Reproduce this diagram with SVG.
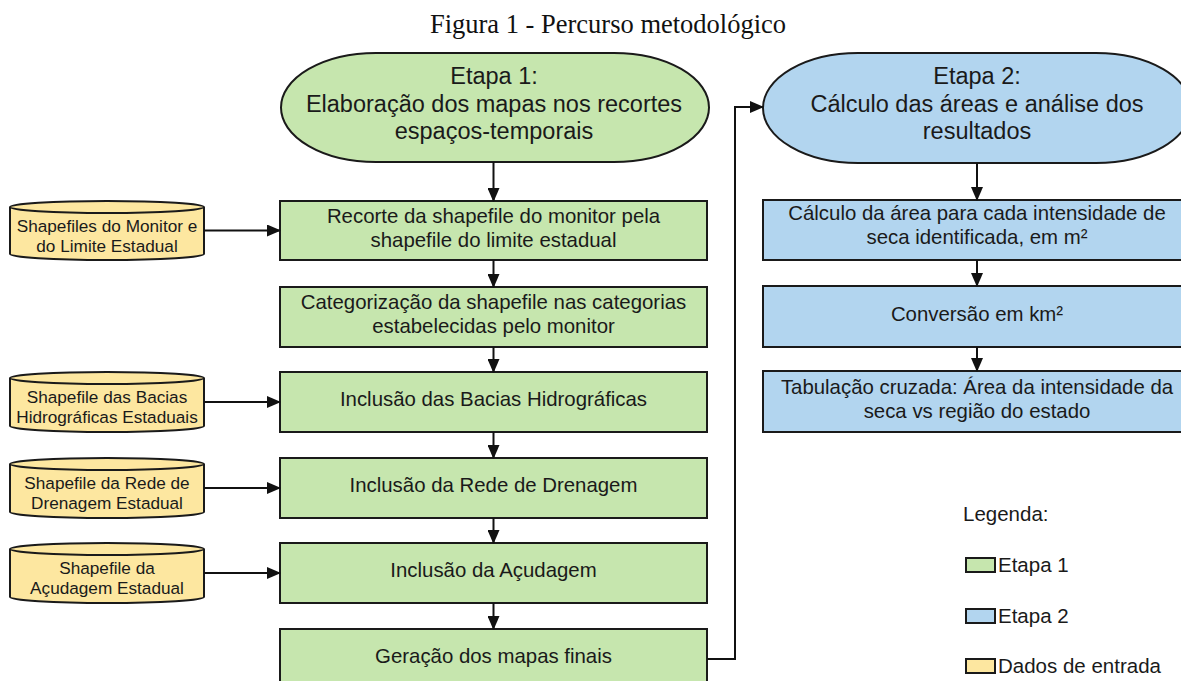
<svg xmlns="http://www.w3.org/2000/svg" width="1181" height="681" viewBox="0 0 1181 681">
<defs>
<marker id="ah" viewBox="0 0 14 12" refX="13" refY="6" markerWidth="14" markerHeight="12" markerUnits="userSpaceOnUse" orient="auto">
<path d="M0,0 L14,6 L0,12 Z" fill="#111"/>
</marker>
<style>
.g{fill:#c6e6ae;stroke:#1a1a1a;stroke-width:2}
.b{fill:#b2d5ef;stroke:#1a1a1a;stroke-width:2}
.y{fill:#fde7a0;stroke:#1a1a1a;stroke-width:2}
.rim{fill:none;stroke:#1a1a1a;stroke-width:2}
.t{font-family:"Liberation Sans",Arial,sans-serif;fill:#1a1a1a;text-anchor:middle}
.bx{font-size:20.4px}
.el{font-size:23.5px}
.cy{font-size:17.2px}
.lg{font-family:"Liberation Sans",Arial,sans-serif;fill:#1a1a1a;font-size:20.5px}
.c{fill:none;stroke:#111;stroke-width:2;marker-end:url(#ah)}
</style>
</defs>
<rect width="1181" height="681" fill="#fff"/>
<text x="608" y="33" font-family="'Liberation Serif','Times New Roman',serif" font-size="26.5" text-anchor="middle" fill="#111">Figura 1 - Percurso metodológico</text>

<g id="etapa1">
<rect class="g" x="281" y="53" width="428" height="109" rx="95" ry="54.5"/>
<text class="t el" x="494"><tspan x="494" y="83.5">Etapa 1:</tspan><tspan x="494" y="111.5">Elaboração dos mapas nos recortes</tspan><tspan x="494" y="139">espaços-temporais</tspan></text>
</g>
<g id="recorte">
<rect class="g" x="280" y="201" width="427" height="59"/>
<text class="t bx"><tspan x="493.5" y="222.5">Recorte da shapefile do monitor pela</tspan><tspan x="493.5" y="246.5">shapefile do limite estadual</tspan></text>
</g>
<g id="categorizacao">
<rect class="g" x="280" y="287" width="427" height="60"/>
<text class="t bx"><tspan x="493.5" y="309">Categorização da shapefile nas categorias</tspan><tspan x="493.5" y="333">estabelecidas pelo monitor</tspan></text>
</g>
<g id="bacias">
<rect class="g" x="280" y="372" width="427" height="60"/>
<text class="t bx" x="493.5" y="406">Inclusão das Bacias Hidrográficas</text>
</g>
<g id="rede">
<rect class="g" x="280" y="458" width="427" height="60"/>
<text class="t bx" x="493.5" y="492">Inclusão da Rede de Drenagem</text>
</g>
<g id="acudagem">
<rect class="g" x="280" y="543" width="427" height="60"/>
<text class="t bx" x="493.5" y="577">Inclusão da Açudagem</text>
</g>
<g id="geracao">
<rect class="g" x="280" y="629" width="427" height="60"/>
<text class="t bx" x="493.5" y="663">Geração dos mapas finais</text>
</g>

<g id="etapa2">
<rect class="b" x="763" y="53" width="428" height="110" rx="95" ry="55"/>
<text class="t el"><tspan x="977" y="83.5">Etapa 2:</tspan><tspan x="977" y="111.5">Cálculo das áreas e análise dos</tspan><tspan x="977" y="139">resultados</tspan></text>
</g>
<g id="calculo">
<rect class="b" x="763" y="200" width="428" height="60"/>
<text class="t bx"><tspan x="977" y="220">Cálculo da área para cada intensidade de</tspan><tspan x="977" y="244">seca identificada, em m²</tspan></text>
</g>
<g id="conversao">
<rect class="b" x="763" y="286" width="428" height="61"/>
<text class="t bx" x="977" y="320.5">Conversão em km²</text>
</g>
<g id="tabulacao">
<rect class="b" x="763" y="371" width="428" height="61"/>
<text class="t bx"><tspan x="977" y="393.5">Tabulação cruzada: Área da intensidade da</tspan><tspan x="977" y="417.5">seca vs região do estado</tspan></text>
</g>

<g id="in-monitor">
<path class="y" d="M10,207 A97,6 0 0 1 204,207 L204,254 A97,6 0 0 1 10,254 Z"/>
<path class="rim" d="M10,207 A97,6 0 0 0 204,207"/>
<text class="t cy"><tspan x="107" y="232">Shapefiles do Monitor e</tspan><tspan x="107" y="252">do Limite Estadual</tspan></text>
</g>
<g id="in-bacias">
<path class="y" d="M10,378 A97,6 0 0 1 204,378 L204,426 A97,6 0 0 1 10,426 Z"/>
<path class="rim" d="M10,378 A97,6 0 0 0 204,378"/>
<text class="t cy"><tspan x="107" y="403">Shapefile das Bacias</tspan><tspan x="107" y="423">Hidrográficas Estaduais</tspan></text>
</g>
<g id="in-rede">
<path class="y" d="M10,464 A97,6 0 0 1 204,464 L204,512 A97,6 0 0 1 10,512 Z"/>
<path class="rim" d="M10,464 A97,6 0 0 0 204,464"/>
<text class="t cy"><tspan x="107" y="489">Shapefile da Rede de</tspan><tspan x="107" y="509">Drenagem Estadual</tspan></text>
</g>
<g id="in-acudagem">
<path class="y" d="M10,549 A97,6 0 0 1 204,549 L204,597 A97,6 0 0 1 10,597 Z"/>
<path class="rim" d="M10,549 A97,6 0 0 0 204,549"/>
<text class="t cy"><tspan x="107" y="574">Shapefile da</tspan><tspan x="107" y="594">Açudagem Estadual</tspan></text>
</g>

<g id="connectors">
<line class="c" x1="493.5" y1="162" x2="493.5" y2="201"/>
<line class="c" x1="493.5" y1="260" x2="493.5" y2="287"/>
<line class="c" x1="493.5" y1="347" x2="493.5" y2="372"/>
<line class="c" x1="493.5" y1="432" x2="493.5" y2="458"/>
<line class="c" x1="493.5" y1="518" x2="493.5" y2="543"/>
<line class="c" x1="493.5" y1="603" x2="493.5" y2="629"/>
<line class="c" x1="977" y1="163" x2="977" y2="200"/>
<line class="c" x1="977" y1="260" x2="977" y2="286"/>
<line class="c" x1="977" y1="347" x2="977" y2="371"/>
<line class="c" x1="204" y1="230.5" x2="280" y2="230.5"/>
<line class="c" x1="204" y1="402" x2="280" y2="402"/>
<line class="c" x1="204" y1="488" x2="280" y2="488"/>
<line class="c" x1="204" y1="573" x2="280" y2="573"/>
<path class="c" d="M707,659 H735 V107 H763"/>
</g>

<g id="legend">
<text class="lg" x="963" y="521">Legenda:</text>
<rect class="g" x="966" y="558" width="29" height="14"/>
<text class="lg" x="998" y="572">Etapa 1</text>
<rect class="b" x="966" y="609" width="29" height="14"/>
<text class="lg" x="998" y="623">Etapa 2</text>
<rect class="y" x="966" y="659" width="29" height="14"/>
<text class="lg" x="998" y="673">Dados de entrada</text>
</g>
</svg>
